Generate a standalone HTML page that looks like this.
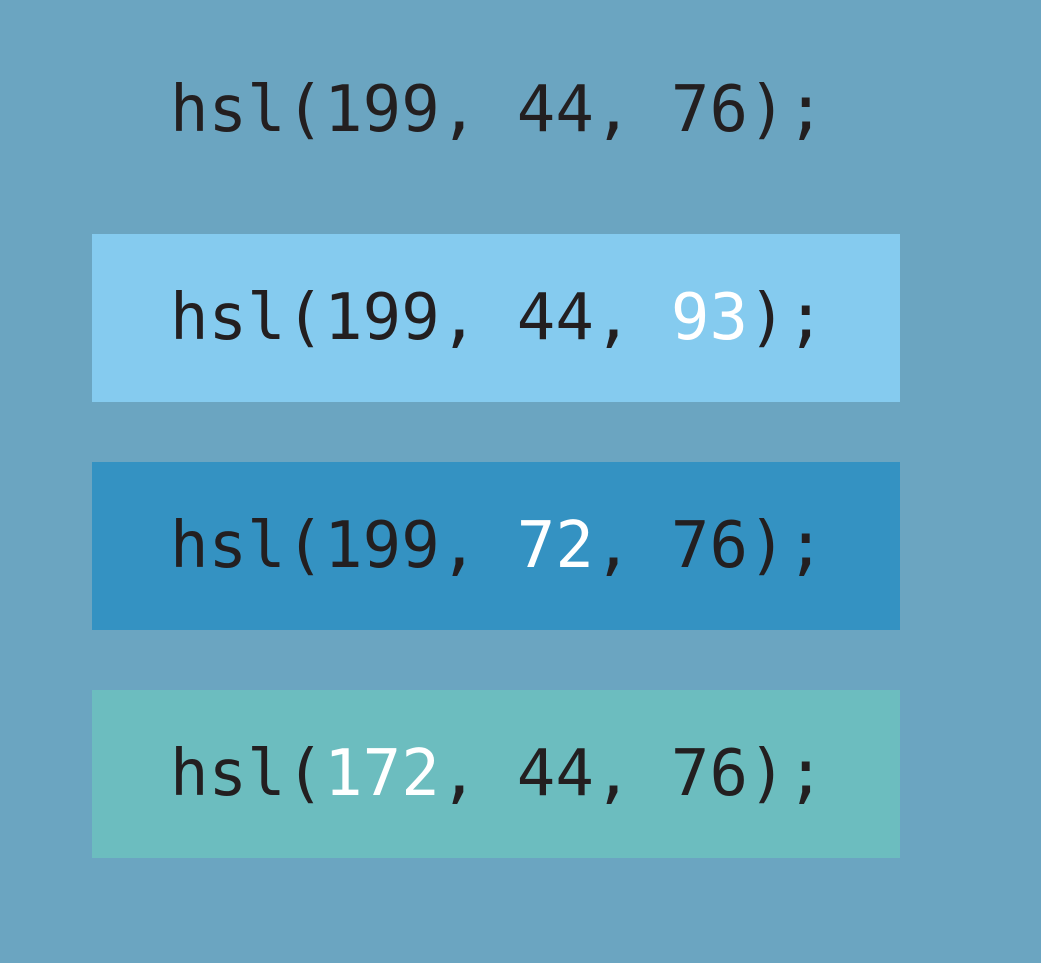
<!DOCTYPE html>
<html>
<head>
<meta charset="utf-8">
<style>
  html,body{margin:0;padding:0;}
  body{width:1041px;height:963px;background:#6ba5c1;position:relative;overflow:hidden;}
  .box{position:absolute;left:92px;width:808px;height:168px;}
  .t{position:absolute;left:170px;font-family:"DejaVu Sans Mono","Liberation Mono",monospace;font-size:64px;color:#231f20;line-height:1;white-space:pre;transform:translateY(-50%);}
  .w{color:#ffffff;}
</style>
</head>
<body>
  <div class="t" style="top:110px">hsl(199, 44, 76);</div>

  <div class="box" style="top:234px;background:#85cbef"></div>
  <div class="t" style="top:318px">hsl(199, 44, <span class="w">93</span>);</div>

  <div class="box" style="top:462px;background:#3492c2"></div>
  <div class="t" style="top:546px">hsl(199, <span class="w">72</span>, 76);</div>

  <div class="box" style="top:690px;background:#6cbdbf"></div>
  <div class="t" style="top:774px">hsl(<span class="w">172</span>, 44, 76);</div>
</body>
</html>
